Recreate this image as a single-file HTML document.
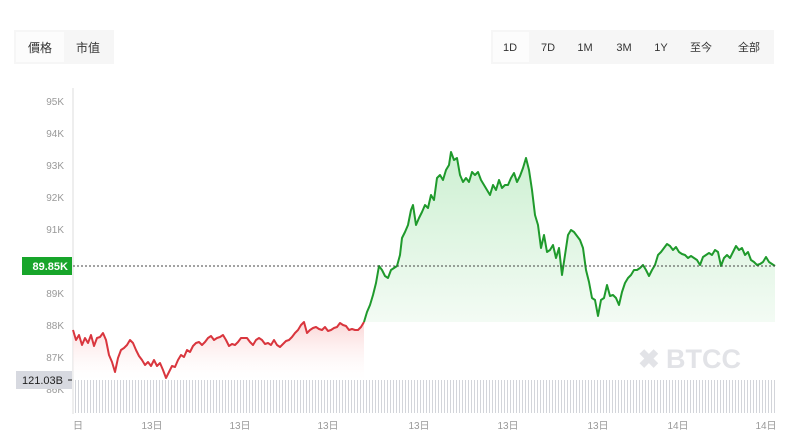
<!DOCTYPE html>
<html><head><meta charset="utf-8"><style>
html,body{margin:0;padding:0;background:#fff;width:801px;height:448px;overflow:hidden;font-family:"Liberation Sans","Noto Sans CJK SC",sans-serif}
</style></head><body>
<svg width="801" height="448" xmlns="http://www.w3.org/2000/svg" font-family="Liberation Sans, Noto Sans CJK SC, sans-serif">
<defs>
<linearGradient id="rg" x1="0" y1="0" x2="0" y2="1"><stop offset="0" stop-color="#fbd6d6"/><stop offset="1" stop-color="#fff" stop-opacity="0.2"/></linearGradient>
<linearGradient id="gg" x1="0" y1="0" x2="0" y2="1"><stop offset="0" stop-color="#cdf0d2"/><stop offset="1" stop-color="#f3fbf4"/></linearGradient>
<pattern id="vb" width="3" height="40" patternUnits="userSpaceOnUse"><rect x="0" y="0" width="1" height="40" fill="#d3d5da"/></pattern>
</defs>
<rect x="14" y="30" width="100" height="34" fill="#f6f6f6"/>
<rect x="16" y="32" width="48" height="30" fill="#fcfcfc"/>
<text x="40" y="52" font-size="12" fill="#333" text-anchor="middle">價格</text>
<text x="88" y="52" font-size="12" fill="#333" text-anchor="middle">市值</text>
<rect x="491" y="30" width="283" height="34" fill="#f6f6f6"/>
<rect x="493" y="32" width="36" height="30" fill="#fcfcfc"/>
<g font-size="11" fill="#333" text-anchor="middle">
<text x="510" y="51">1D</text><text x="548" y="51">7D</text><text x="585" y="51">1M</text><text x="624" y="51">3M</text><text x="661" y="51">1Y</text><text x="701" y="51">至今</text><text x="749" y="51">全部</text></g>
<line x1="73" y1="88" x2="73" y2="414" stroke="#ddd"/>
<g font-size="10" fill="#999" text-anchor="end">
<text x="64" y="105">95K</text><text x="64" y="137">94K</text><text x="64" y="169">93K</text><text x="64" y="201">92K</text><text x="64" y="233">91K</text><text x="64" y="297">89K</text><text x="64" y="329">88K</text><text x="64" y="361">87K</text><text x="64" y="393">86K</text></g>
<polygon fill="url(#rg)" points="73,380 73,330 76,340 79,335 82,345 85,338 88,343 91,335 94,346 97,338 100,337 103,333 106,340 109,355 112,362 115,372 118,358 121,350 124,348 127,345 130,340 133,343 136,350 139,356 142,360 145,365 148,362 151,366 154,360 157,366 160,363 163,370 166,378 169,372 172,366 175,367 178,360 181,355 184,357 187,350 190,352 193,346 196,343 199,342 202,345 205,342 208,338 211,336 214,340 217,338 220,337 223,335 226,340 229,346 232,344 235,345 238,342 241,338 244,338 247,338 250,342 253,345 256,340 259,338 262,340 265,344 268,343 271,345 274,340 277,345 280,347 283,344 286,341 289,340 292,337 295,333 298,330 301,325 304,322 307,333 310,330 313,328 316,327 319,329 322,330 325,327 328,331 331,330 334,328 337,327 340,323 343,325 346,326 349,330 352,329 355,330 358,330 361,327 364,322 364,380"/>
<polygon fill="url(#gg)" points="364,322 367,312 370,305 373,295 376,283 379,266 382,270 385,276 388,278 391,270 394,268 397,266 400,255 402,238 405,232 408,225 411,210 413,205 416,225 419,218 422,212 425,205 428,208 431,195 434,200 437,178 440,175 443,180 446,170 449,165 451,152 454,160 457,158 460,175 463,182 466,178 469,182 472,172 475,175 478,172 481,180 484,185 487,190 490,195 493,185 496,190 499,180 502,188 505,185 508,185 511,178 514,173 517,182 520,176 523,168 526,158 529,170 532,190 535,215 538,225 541,248 544,235 547,252 550,250 553,245 556,258 559,248 562,275 565,255 568,235 571,230 574,232 577,236 580,240 583,248 586,270 589,282 592,298 595,300 598,316 601,300 604,298 607,285 610,296 613,295 616,298 619,305 622,292 625,283 628,278 631,275 634,270 637,270 640,268 643,265 646,270 649,276 652,270 655,265 658,255 661,252 664,248 667,244 670,246 673,250 676,247 679,252 682,254 685,255 688,258 691,256 694,258 697,260 700,265 703,257 706,255 709,253 712,255 715,250 718,252 721,266 724,258 727,255 730,258 733,252 736,246 739,250 742,248 745,255 748,252 751,260 754,262 757,265 760,264 763,262 766,257 769,262 772,264 775,266 775,322"/>
<polyline fill="none" stroke="#d9363e" stroke-width="2" stroke-linejoin="round" points="73,330 76,340 79,335 82,345 85,338 88,343 91,335 94,346 97,338 100,337 103,333 106,340 109,355 112,362 115,372 118,358 121,350 124,348 127,345 130,340 133,343 136,350 139,356 142,360 145,365 148,362 151,366 154,360 157,366 160,363 163,370 166,378 169,372 172,366 175,367 178,360 181,355 184,357 187,350 190,352 193,346 196,343 199,342 202,345 205,342 208,338 211,336 214,340 217,338 220,337 223,335 226,340 229,346 232,344 235,345 238,342 241,338 244,338 247,338 250,342 253,345 256,340 259,338 262,340 265,344 268,343 271,345 274,340 277,345 280,347 283,344 286,341 289,340 292,337 295,333 298,330 301,325 304,322 307,333 310,330 313,328 316,327 319,329 322,330 325,327 328,331 331,330 334,328 337,327 340,323 343,325 346,326 349,330 352,329 355,330 358,330 361,327 364,322"/>
<polyline fill="none" stroke="#1f9a2c" stroke-width="2" stroke-linejoin="round" points="364,322 367,312 370,305 373,295 376,283 379,266 382,270 385,276 388,278 391,270 394,268 397,266 400,255 402,238 405,232 408,225 411,210 413,205 416,225 419,218 422,212 425,205 428,208 431,195 434,200 437,178 440,175 443,180 446,170 449,165 451,152 454,160 457,158 460,175 463,182 466,178 469,182 472,172 475,175 478,172 481,180 484,185 487,190 490,195 493,185 496,190 499,180 502,188 505,185 508,185 511,178 514,173 517,182 520,176 523,168 526,158 529,170 532,190 535,215 538,225 541,248 544,235 547,252 550,250 553,245 556,258 559,248 562,275 565,255 568,235 571,230 574,232 577,236 580,240 583,248 586,270 589,282 592,298 595,300 598,316 601,300 604,298 607,285 610,296 613,295 616,298 619,305 622,292 625,283 628,278 631,275 634,270 637,270 640,268 643,265 646,270 649,276 652,270 655,265 658,255 661,252 664,248 667,244 670,246 673,250 676,247 679,252 682,254 685,255 688,258 691,256 694,258 697,260 700,265 703,257 706,255 709,253 712,255 715,250 718,252 721,266 724,258 727,255 730,258 733,252 736,246 739,250 742,248 745,255 748,252 751,260 754,262 757,265 760,264 763,262 766,257 769,262 772,264 775,266"/>
<line x1="73" y1="266" x2="775" y2="266" stroke="#444" stroke-dasharray="2,2"/>
<rect x="22" y="257" width="50" height="18" fill="#17a52a"/>
<text x="68" y="270" font-size="11" fill="#fff" font-weight="bold" text-anchor="end">89.85K</text>
<text x="638" y="368" font-size="26" fill="#e2e3e7" font-weight="bold">✖</text>
<text x="666" y="368" font-size="27" fill="#e2e3e7" font-weight="bold">BTCC</text>
<rect x="74" y="380" width="701" height="33" fill="url(#vb)"/>
<rect x="16" y="371" width="56" height="18" fill="#d7d9e0"/>
<text x="63" y="384" font-size="11" fill="#222" text-anchor="end">121.03B</text>
<line x1="68" y1="380" x2="72" y2="380" stroke="#222"/>
<g font-size="10" fill="#999" text-anchor="middle">
<text x="78" y="429">日</text><text x="152" y="429">13日</text><text x="240" y="429">13日</text><text x="328" y="429">13日</text><text x="419" y="429">13日</text><text x="508" y="429">13日</text><text x="598" y="429">13日</text><text x="678" y="429">14日</text><text x="766" y="429">14日</text></g>
</svg>
</body></html>
